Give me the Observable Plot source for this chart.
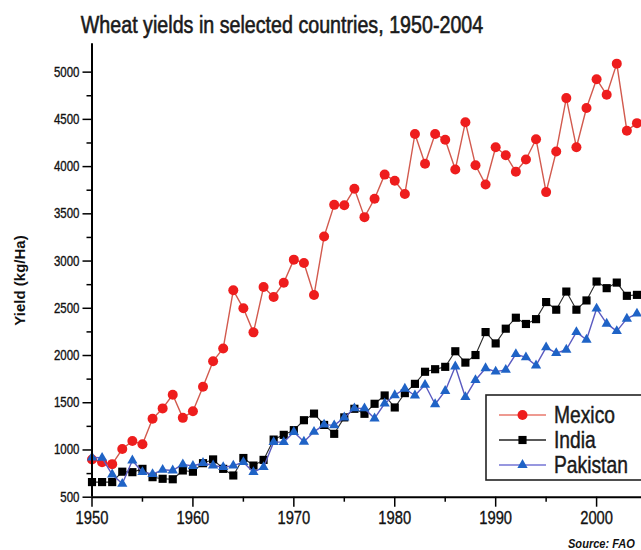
<!DOCTYPE html>
<html>
<head>
<meta charset="utf-8">
<script src="https://cdn.jsdelivr.net/npm/d3@7"></script>
<script src="https://cdn.jsdelivr.net/npm/@observablehq/plot@0.6"></script>
<style>
  html, body { margin: 0; padding: 0; background: #fff; }
  #wrap { position: relative; width: 641px; height: 550px; overflow: hidden; }
  #overlay { position: absolute; left: 0; top: 0; pointer-events: none; }
</style>
</head>
<body>
<div id="wrap"></div>
<script>
// ---- data ----
const years = [1950,1951,1952,1953,1954,1955,1956,1957,1958,1959,
               1960,1961,1962,1963,1964,1965,1966,1967,1968,1969,
               1970,1971,1972,1973,1974,1975,1976,1977,1978,1979,
               1980,1981,1982,1983,1984,1985,1986,1987,1988,1989,
               1990,1991,1992,1993,1994,1995,1996,1997,1998,1999,
               2000,2001,2002,2003,2004];
const mexico = [900,870,850,1010,1095,1060,1330,1440,1585,1340,
                1410,1670,1940,2075,2690,2500,2245,2725,2620,2770,
                3015,2980,2640,3260,3595,3590,3765,3465,3660,3915,
                3850,3710,4345,4030,4345,4285,3970,4470,4015,3810,
                4205,4120,3945,4075,4290,3730,4160,4725,4205,4620,
                4925,4760,5090,4380,4460];
const india = [660,660,660,770,765,800,712,695,690,783,
               770,860,900,800,730,915,835,895,1110,1160,
               1210,1315,1385,1265,1171,1345,1436,1383,1489,1577,
               1450,1602,1700,1828,1855,1880,2045,1925,2005,2248,
               2128,2284,2400,2334,2385,2566,2485,2677,2485,2583,
               2783,2713,2772,2632,2642];
const pakistan = [920,917,740,642,889,765,745,790,783,848,
                  830,862,836,818,834,871,765,818,1083,1083,
                  1190,1087,1192,1268,1260,1344,1440,1440,1334,1492,
                  1580,1648,1577,1690,1484,1625,1884,1559,1740,1865,
                  1830,1848,2015,1980,1895,2086,2025,2061,2248,2167,
                  2496,2337,2258,2390,2443];
const seriesNames = ["Mexico", "India", "Pakistan"];
const yMajor = [500,1000,1500,2000,2500,3000,3500,4000,4500,5000];
const yMinor = [750,1250,1750,2250,2750,3250,3750,4250,4750];
const xMajor = [1950,1960,1970,1980,1990,2000];
const xMinor = [1955,1965,1975,1985,1995];
const titleText = "Wheat yields in selected countries, 1950-2004";
const yLabel = "Yield (kg/Ha)";
const sourceText = "Source:  FAO";

// ---- styles ----
const styles = {
  Mexico:   {line: "#d25a4e", lineWidth: 1.4, fill: "#ee1d1d", symbol: "circle", r: 5,   legendLine: "#e8786c"},
  India:    {line: "#2a2a2a", lineWidth: 1.1, fill: "#000000", symbol: "square", r: 4.6, legendLine: "#222222"},
  Pakistan: {line: "#5a5ac0", lineWidth: 1.4, fill: "#1f63c6", symbol: "triangle", r: 3.8, legendLine: "#7474d4"}
};
const SQUEEZE = 0.82; // the reference's lettering is horizontally condensed
const values = {Mexico: mexico, India: india, Pakistan: pakistan};
const rows = name => years.map((yr, i) => ({year: yr, value: values[name][i], series: name}));

const sans = "'Liberation Sans', Arial, sans-serif";

const seriesMarks = seriesNames.flatMap(name => {
  const s = styles[name];
  const data = rows(name);
  return [
    Plot.line(data, {x: "year", y: "value", stroke: s.line, strokeWidth: s.lineWidth}),
    Plot.dot(data, {x: "year", y: "value", fill: s.fill, symbol: s.symbol, r: s.r, stroke: "none"})
  ];
});

const chart = Plot.plot({
  width: 641,
  height: 550,
  marginLeft: 91.5,
  marginRight: 0,
  marginTop: 43.3,
  marginBottom: 53.3,
  style: {fontFamily: sans, background: "#fff", color: "#000", overflow: "visible"},
  x: {domain: [1950, 2004.45], axis: null},
  y: {domain: [500, 5300], axis: null},
  marks: [
    Plot.axisY(yMinor, {tickSize: 5, tickFormat: () => "", strokeWidth: 1.5, label: null}),
    Plot.axisY(yMajor, {tickSize: 9, tickPadding: 3.5, tickFormat: "d", fontSize: 14, strokeWidth: 1.5, label: null, fill: "#111"}),
    Plot.axisX(xMinor, {tickSize: 5, tickFormat: () => "", strokeWidth: 1.5, label: null}),
    Plot.axisX(xMajor, {tickSize: 10, tickPadding: 4, tickFormat: "d", fontSize: 18, strokeWidth: 1.5, label: null, fill: "#111"}),
    Plot.text([yLabel], {frameAnchor: "left", dx: -71.5, dy: 10, rotate: -90, fontSize: 15, fontWeight: "bold",
                         textAnchor: "middle", fill: "#111"}),
    ...seriesMarks,
    Plot.ruleX([1950], {strokeWidth: 2}),
    Plot.ruleY([500], {strokeWidth: 2})
  ]
});

const wrap = document.getElementById("wrap");
wrap.appendChild(chart);

// condense the tick labels horizontally around their anchor points, and darken them slightly
d3.select(chart).selectAll("g[aria-label$='tick label'] text").each(function () {
  const el = d3.select(this);
  const t = el.attr("transform");
  if (t) {
    el.attr("transform", `${t} scale(${SQUEEZE},1)`);
  } else {
    const x = +el.attr("x") || 0, y = +el.attr("y") || 0;
    el.attr("x", null).attr("y", null).attr("transform", `translate(${x},${y}) scale(${SQUEEZE},1)`);
  }
  el.attr("stroke", "#111").attr("stroke-width", 0.35);
});

// ---- overlay: title, legend, source ----
const ov = d3.select(wrap).append("svg")
  .attr("id", "overlay").attr("width", 641).attr("height", 550);

function squeezedText(parent, x, y, str, size, extra = {}) {
  const t = parent.append("text")
    .attr("transform", `translate(${x},${y}) scale(${SQUEEZE},1)`)
    .attr("font-family", sans).attr("font-size", size).attr("fill", "#1a1a1a")
    .attr("stroke", "#1a1a1a").attr("stroke-width", 0.45).text(str);
  Object.entries(extra).forEach(([k, v]) => t.attr(k, v));
  return t;
}

squeezedText(ov, 282, 33, titleText, 24, {"text-anchor": "middle", "stroke-width": 0.6});

const lg = ov.append("g");
lg.append("rect").attr("x", 486).attr("y", 395).attr("width", 180).attr("height", 85)
  .attr("fill", "#fff").attr("stroke", "#222").attr("stroke-width", 1.6);
const symMap = {circle: d3.symbolCircle, square: d3.symbolSquare, triangle: d3.symbolTriangle};
seriesNames.forEach((name, i) => {
  const s = styles[name];
  const cy = 415 + i * 25;
  lg.append("line").attr("x1", 499).attr("x2", 546).attr("y1", cy).attr("y2", cy)
    .attr("stroke", s.legendLine).attr("stroke-width", 1.6);
  lg.append("path").attr("transform", `translate(522.5,${cy})`)
    .attr("d", d3.symbol(symMap[s.symbol], Math.PI * s.r * s.r)()).attr("fill", s.fill);
  squeezedText(lg, 554, cy + 7.5, name, 23.5);
});

squeezedText(ov, 568, 548, sourceText, 13.5, {"font-weight": "bold", "font-style": "italic", fill: "#111", "stroke-width": 0});
</script>
</body>
</html>
